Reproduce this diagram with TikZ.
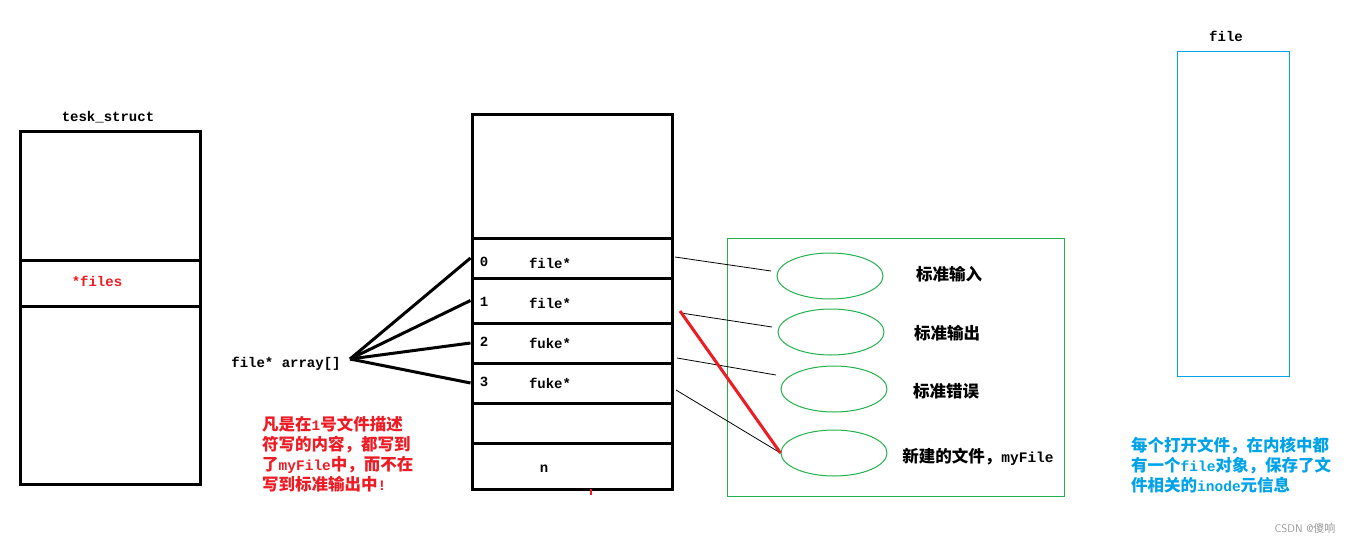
\documentclass[tikz,border=0pt]{standalone}
\usepackage{fontspec}
\usetikzlibrary{shapes.geometric}
\newfontfamily\mono{Liberation Mono}
\newfontfamily\cjk{Noto Sans CJK SC}
\definecolor{pred}{RGB}{237,28,36}
\definecolor{pgreen}{RGB}{34,177,76}
\definecolor{pblue}{RGB}{0,162,232}
\newcommand{\M}[1]{{\mono\bfseries\fontsize{14.5}{20}\selectfont #1}}
\begin{document}
\begin{tikzpicture}[x=1pt,y=-1pt,
  box/.style={draw=black,line width=3pt,inner sep=0pt,minimum width=#1},
  cell/.style={box=200pt},
  tcell/.style={box=180pt},
  lab/.style={inner sep=0pt,font=\mono\bfseries\fontsize{14}{16}\selectfont},
  zh/.style={inner sep=0pt,font=\cjk\bfseries\fontsize{16.5}{20}\selectfont},
  oval/.style={draw=pgreen,line width=1pt,ellipse,inner sep=0pt,minimum width=106pt,minimum height=46pt},
  thin/.style={draw=black,line width=0.8pt},
  fan/.style={draw=black,line width=3pt},
]
\useasboundingbox (0,0) rectangle (1353,544);
\fill[white] (0,0) rectangle (1353,544);

% task struct
\node[tcell,minimum height=129pt] (t1) at (110,195.5) {};
\node[tcell,minimum height=46pt] (t2) at (110,283) {};
\node[tcell,minimum height=178pt] (t3) at (110,395) {};
\node[lab] (tlab) at (108,117) {tesk\_struct};
\node[lab,text=pred] (files) at (97,281) {*files};

% fd array
\node[cell,minimum height=124pt] (atop) at (572,176) {};
\node[cell,minimum height=40pt] (r0) at (572,258) {};
\node[cell,minimum height=45pt] (r1) at (572,300.5) {};
\node[cell,minimum height=40pt] (r2) at (572,343) {};
\node[cell,minimum height=40pt] (r3) at (572,383) {};
\node[cell,minimum height=40pt] (r4) at (572,423) {};
\node[cell,minimum height=46pt] (r5) at (572,466) {};
\node[lab] (n0) at (484,262) {0};
\node[lab] (n1) at (484,302) {1};
\node[lab] (n2) at (484,342) {2};
\node[lab] (n3) at (484,382) {3};
\node[lab] (f0) at (550,263) {file*};
\node[lab] (f1) at (550,303) {file*};
\node[lab] (f2) at (550,343) {fuke*};
\node[lab] (f3) at (550,383) {fuke*};
\node[lab] (nn) at (544,469) {n};
\coordinate (tick) at (591,489);
\coordinate (tickend) at (591,495);
\draw[pred,line width=2pt] (tick) -- (tickend);

% file* array[]
\node[lab] (arr) at (286,364) {file* array[]};
\coordinate (hub) at (350,359);
\draw[fan] (hub) -- (r0.west);
\draw[fan] (hub) -- (r1.west);
\draw[fan] (hub) -- (r2.west);
\draw[fan] (hub) -- (r3.west);

% red note
\node[zh,text=pred,align=left,anchor=north west] (note) at (262,416)
 {凡是在\M{1}号文件描述\\符写的内容，都写到\\了\M{myFile}中，而不在\\写到标准输出中\M{!}};

% green box
\node[draw=pgreen,line width=1pt,inner sep=0pt,minimum width=337pt,minimum height=258pt] (gbox) at (895.5,367) {};
\node[oval] (e1) at (830,276) {};
\node[oval] (e2) at (831,332) {};
\node[oval] (e3) at (834,389) {};
\node[oval] (e4) at (834,453) {};
\node[zh] (l1) at (949,274) {标准输入};
\node[zh] (l2) at (947,333) {标准输出};
\node[zh] (l3) at (946,391) {标准错误};
\node[zh] (l4) at (978,457) {新建的文件，\M{myFile}};

\coordinate (s0) at (675,257);
\coordinate (s1) at (681,313);
\coordinate (s2) at (677,358);
\coordinate (s3) at (676,390);
\coordinate (d0) at (771,271);
\coordinate (d1) at (772,327);
\coordinate (d2) at (776,375);
\draw[thin] (s0) -- (d0);
\draw[thin] (s1) -- (d1);
\draw[thin] (s2) -- (d2);
\draw[thin] (s3) -- (e4.west);
\coordinate (rs) at (680,311);
\draw[pred,line width=3pt] (rs) -- (e4.west);

% file object
\node[draw=pblue,line width=1pt,inner sep=0pt,minimum width=112pt,minimum height=325pt] (fobj) at (1233,213.5) {};
\node[lab] (flab) at (1226,36) {file};
\node[zh,text=pblue,align=left,anchor=north west] (bnote) at (1131,437)
 {每个打开文件，在内核中都\\有一个\M{file}对象，保存了文\\件相关的\M{inode}元信息};

\node[inner sep=0pt,text=black!40,font=\fontsize{11}{12}\selectfont\sffamily] (wm) at (1305,528) {CSDN @{\cjk 傻响}};
\end{tikzpicture}
\end{document}
